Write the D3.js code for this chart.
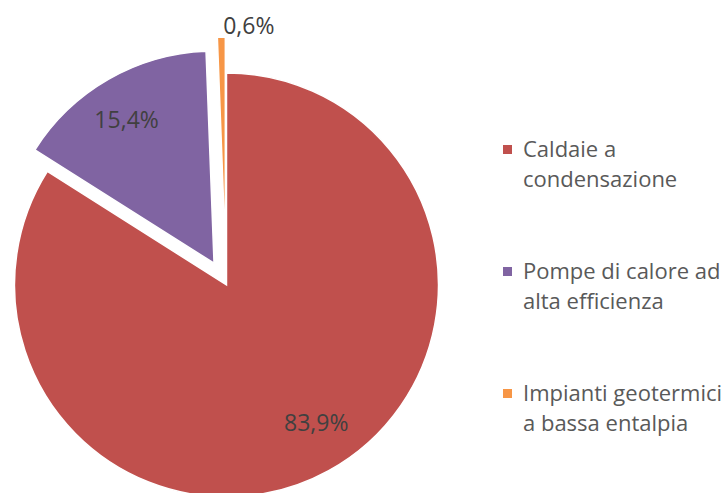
<!DOCTYPE html>
<html>
<head>
<meta charset="utf-8">
<script src="https://cdn.jsdelivr.net/npm/d3@7"></script>
<style>
  html, body { margin: 0; padding: 0; background: #fff; }
  svg { display: block; }
</style>
</head>
<body>
<svg id="chart"></svg>
<script>
const categories = ['Caldaie a condensazione', 'Pompe di calore ad alta efficienza', 'Impianti geotermici a bassa entalpia'];
const legendLines = [['Caldaie a', 'condensazione'], ['Pompe di calore ad', 'alta efficienza'], ['Impianti geotermici', 'a bassa entalpia']];
const values = [83.9, 15.4, 0.6];
const colors = ['#C0504D', '#8064A2', '#F79646'];

const width = 727, height = 493;
const cx = 226, cy = 284, radius = 212;
const explode = [1, 24, 35];

const it = d3.formatLocale({ decimal: ',', thousands: '.', grouping: [3], currency: ['', '€'] });
const fmt = it.format('.1f');

const svg = d3.select('#chart')
  .attr('width', width)
  .attr('height', height);

const pie = d3.pie().sort(null).value(d => d);
const arc = d3.arc().innerRadius(0).outerRadius(radius);
const labelArc = d3.arc().innerRadius(radius * 0.78).outerRadius(radius * 0.78);

const arcs = pie(values);

const offset = (d, i) => {
  const a = (d.startAngle + d.endAngle) / 2;
  return [Math.sin(a) * explode[i], -Math.cos(a) * explode[i]];
};

const g = svg.append('g')
  .attr('transform', `translate(${cx}, ${cy})`);

const slices = g.selectAll('.slice')
  .data(arcs)
  .enter()
  .append('g')
  .attr('class', 'slice')
  .attr('transform', (d, i) => `translate(${offset(d, i)})`);

slices.append('path')
  .attr('d', arc)
  .attr('fill', (d, i) => colors[i])
  .attr('stroke', '#fff')
  .attr('stroke-width', 1.5);

// labels: inside for big slices, outside for the tiny one
slices.append('text')
  .attr('transform', d => {
    if (d.value < 5) {
      const a = (d.startAngle + d.endAngle) / 2;
      const r = radius + 10;
      return `translate(${Math.sin(a) * r}, ${-Math.cos(a) * r})`;
    }
    return `translate(${labelArc.centroid(d)})`;
  })
  .attr('text-anchor', d => d.value < 5 ? 'start' : 'middle')
  .attr('dx', d => d.value < 5 ? 2 : (d.value > 50 ? 10 : -5))
  .attr('dy', d => d.value < 5 ? '0.32em' : (d.value > 50 ? '0.05em' : '0.35em'))
  .attr('font-family', '"Open Sans", sans-serif')
  .attr('font-size', 23)
  .attr('fill', '#404040')
  .text(d => fmt(d.value) + '%');

// legend
const legend = svg.append('g')
  .attr('transform', 'translate(503, 157)');

const items = legend.selectAll('.item')
  .data(categories)
  .enter()
  .append('g')
  .attr('class', 'item')
  .attr('transform', (d, i) => `translate(0, ${i * 122})`);

items.append('rect')
  .attr('x', 0)
  .attr('y', -12)
  .attr('width', 9)
  .attr('height', 9)
  .attr('fill', (d, i) => colors[i]);

items.append('text')
  .attr('x', 20)
  .attr('font-family', '"Open Sans", sans-serif')
  .attr('font-size', 22)
  .attr('fill', '#595959')
  .selectAll('tspan')
  .data((d, i) => legendLines[i])
  .enter()
  .append('tspan')
  .attr('x', 20)
  .attr('y', (d, j) => j * 30)
  .text(d => d);
</script>
</body>
</html>
